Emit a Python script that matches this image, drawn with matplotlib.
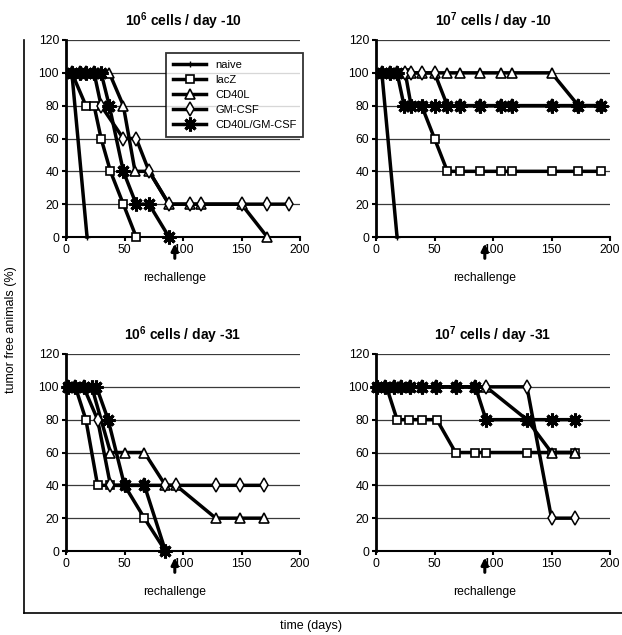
import matplotlib
matplotlib.use('Agg')
import matplotlib.pyplot as plt

plt.rcParams['font.family'] = ['Liberation Sans', 'DejaVu Sans']
plt.rcParams['mathtext.default'] = 'regular'

groups = ['naive', 'lacZ', 'CD40L', 'GM-CSF', 'CD40L/GM-CSF']
titles = [r'10$^{6}$ cells / day -10', r'10$^{7}$ cells / day -10',
          r'10$^{6}$ cells / day -31', r'10$^{7}$ cells / day -31']
rechallenge_day = 93

# panel 1: 10^6 cells / day -10
p1 = {
    'naive': ([5, 18], [100, 0]),
    'lacZ': ([5, 17, 24, 30, 38, 49, 60], [100, 80, 80, 60, 40, 20, 0]),
    'CD40L': ([5, 12, 17, 24, 30, 37, 49, 59, 71, 88, 106, 115, 150, 172],
              [100, 100, 100, 100, 100, 100, 80, 40, 40, 20, 20, 20, 20, 0]),
    'GM-CSF': ([5, 12, 17, 24, 30, 49, 60, 71, 88, 106, 115, 150, 172, 191],
               [100, 100, 100, 100, 80, 60, 60, 40, 20, 20, 20, 20, 20, 20]),
    'CD40L/GM-CSF': ([5, 12, 17, 24, 30, 37, 49, 60, 71, 88],
                     [100, 100, 100, 100, 100, 80, 40, 20, 20, 0]),
}
# panel 2: 10^7 cells / day -10
p2 = {
    'naive': ([5, 18], [100, 0]),
    'lacZ': ([5, 12, 18, 25, 30, 39, 50, 61, 72, 89, 107, 116, 150, 173, 192],
             [100, 100, 100, 100, 80, 80, 60, 40, 40, 40, 40, 40, 40, 40, 40]),
    'CD40L': ([5, 12, 18, 25, 30, 39, 50, 61, 72, 89, 107, 116, 150, 173, 192],
              [100, 100, 100, 100, 100, 100, 100, 100, 100, 100, 100, 100, 100, 80, 80]),
    'GM-CSF': ([5, 12, 18, 25, 30, 39, 50, 61, 72, 89, 107, 116, 150, 173, 192],
               [100, 100, 100, 100, 100, 100, 100, 80, 80, 80, 80, 80, 80, 80, 80]),
    'CD40L/GM-CSF': ([5, 12, 18, 24, 30, 39, 50, 61, 72, 89, 107, 116, 150, 173, 192],
                     [100, 100, 100, 80, 80, 80, 80, 80, 80, 80, 80, 80, 80, 80, 80]),
}
# panel 3: 10^6 cells / day -31
p3 = {
    'lacZ': ([2, 8, 17, 27, 38, 50, 67, 85], [100, 100, 80, 40, 40, 40, 20, 0]),
    'CD40L': ([2, 8, 15, 22, 38, 50, 67, 85, 94, 128, 149, 169],
              [100, 100, 100, 100, 60, 60, 60, 40, 40, 20, 20, 20]),
    'GM-CSF': ([2, 8, 15, 27, 38, 50, 67, 85, 94, 128, 149, 169],
               [100, 100, 100, 80, 40, 40, 40, 40, 40, 40, 40, 40]),
    'CD40L/GM-CSF': ([2, 8, 15, 22, 26, 36, 50, 67, 85],
                     [100, 100, 100, 100, 100, 80, 40, 40, 0]),
}
# panel 4: 10^7 cells / day -31
p4 = {
    'lacZ': ([1, 9, 18, 28, 39, 52, 68, 85, 94, 129, 150, 170],
             [100, 100, 80, 80, 80, 80, 60, 60, 60, 60, 60, 60]),
    'CD40L': ([1, 8, 15, 21, 29, 39, 51, 68, 85, 94, 129, 150, 170],
              [100, 100, 100, 100, 100, 100, 100, 100, 100, 100, 80, 60, 60]),
    'GM-CSF': ([1, 8, 15, 21, 29, 39, 51, 68, 85, 94, 129, 150, 170],
               [100, 100, 100, 100, 100, 100, 100, 100, 100, 100, 100, 20, 20]),
    'CD40L/GM-CSF': ([1, 8, 15, 21, 29, 39, 51, 68, 85, 94, 129, 150, 170],
                     [100, 100, 100, 100, 100, 100, 100, 100, 100, 80, 80, 80, 80]),
}
panels = [p1, p2, p3, p4]

styles = {
    'naive': dict(marker='+', ms=4, mew=1),
    'lacZ': dict(marker='s', ms=6, mfc='white', mew=1.2),
    'CD40L': dict(marker='^', ms=7, mfc='white', mew=1.2),
    'GM-CSF': dict(marker='d', ms=7, mfc='white', mew=1.1),
    'CD40L/GM-CSF': dict(marker=(8, 2, 0), ms=10, mew=2.2),
}

W, H = 622, 635
fig = plt.figure(figsize=(W / 100, H / 100), dpi=100)

# outer frame with the shared axis labels
frame = fig.add_axes([24 / W, 1 - 613 / H, (W - 24) / W, (613 - 40) / H])
frame.set_xticks([])
frame.set_yticks([])
frame.spines['top'].set_visible(False)
frame.spines['right'].set_visible(False)
frame.spines['left'].set_linewidth(1.2)
frame.spines['bottom'].set_linewidth(1.2)
frame.patch.set_alpha(0)
fig.text(311 / W, 1 - 626 / H, 'time (days)', ha='center', va='center', fontsize=9)
fig.text(11 / W, 1 - 330 / H, 'tumor free animals (%)', ha='center', va='center',
         rotation=90, fontsize=9)

lefts = [66, 376, 66, 376]
tops = [40, 40, 354, 354]
aw, ah = 234, 197

for i, data in enumerate(panels):
    ax = fig.add_axes([lefts[i] / W, 1 - (tops[i] + ah) / H, aw / W, ah / H])
    ax.set_xlim(0, 200)
    ax.set_ylim(0, 120)
    for y in range(20, 121, 20):
        ax.axhline(y, color='#3a3a3a', lw=0.9, zorder=1)
    for g in groups:
        if g not in data:
            continue
        xs, ys = data[g]
        ax.plot(xs, ys, color='black', lw=2.5, mec='black', label=g,
                clip_on=False, zorder=3, **styles[g])
    ax.spines['top'].set_visible(False)
    ax.spines['right'].set_visible(False)
    ax.spines['left'].set_linewidth(2)
    ax.spines['bottom'].set_linewidth(1.5)
    ax.set_xticks([0, 50, 100, 150, 200])
    ax.set_yticks(range(0, 121, 20))
    ax.tick_params(direction='out', length=3, width=1.5, labelsize=8.7, pad=2)
    ax.set_title(titles[i], fontsize=10, fontweight='bold', pad=10)
    ax.annotate('', xy=(rechallenge_day, -4), xytext=(rechallenge_day, -13),
                arrowprops=dict(arrowstyle='-|>', lw=2.2, color='black', mutation_scale=10,
                                shrinkA=0, shrinkB=0),
                annotation_clip=False)
    ax.text(rechallenge_day, -25, 'rechallenge', ha='center', va='center', fontsize=8.7,
            clip_on=False)
    if i == 0:
        leg = ax.legend(loc='upper left', bbox_to_anchor=(0.405, 0.96), fontsize=8,
                        frameon=True, fancybox=False, edgecolor='black',
                        handlelength=3, borderpad=0.6, labelspacing=0.45)
        leg.get_frame().set_linewidth(1.3)
        leg.set_zorder(5)

fig.savefig('out.png', dpi=100, facecolor='white')
